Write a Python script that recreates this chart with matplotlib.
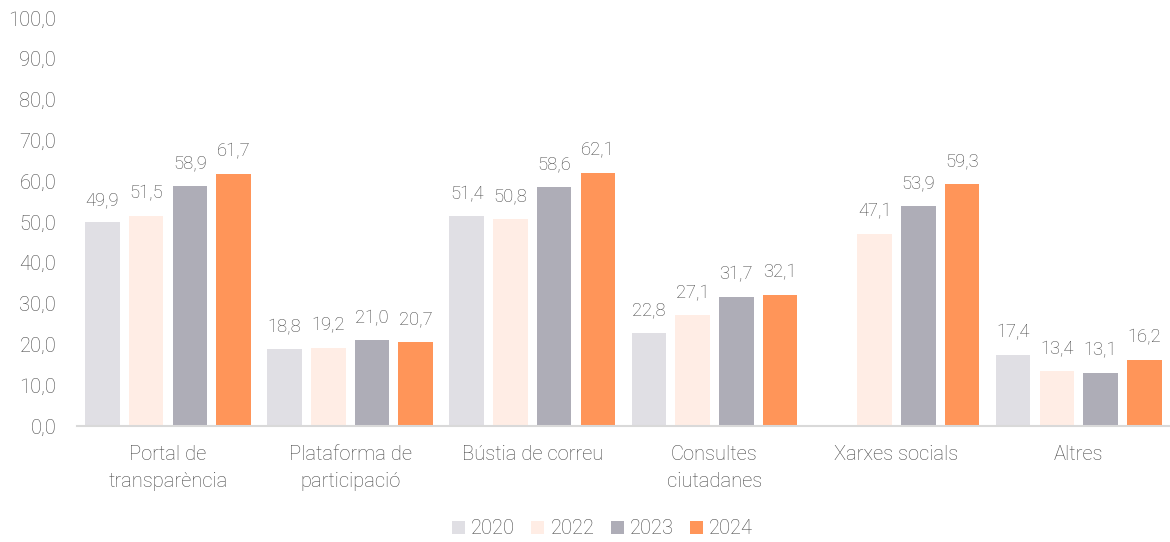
import matplotlib
matplotlib.use("Agg")
import matplotlib.pyplot as plt
import numpy as np
from matplotlib.patches import Patch

categories = ["Portal de\ntransparència", "Plataforma de\nparticipació", "Bústia de correu",
              "Consultes\nciutadanes", "Xarxes socials", "Altres"]
years = ["2020", "2022", "2023", "2024"]
v2020 = [49.9, 18.8, 51.4, 22.8, np.nan, 17.4]
v2022 = [51.5, 19.2, 50.8, 27.1, 47.1, 13.4]
v2023 = [58.9, 21.0, 58.6, 31.7, 53.9, 13.1]
v2024 = [61.7, 20.7, 62.1, 32.1, 59.3, 16.2]
series = [v2020, v2022, v2023, v2024]
colors = ["#E0DFE4", "#FFEDE5", "#AEADB7", "#FF9559"]

plt.rcParams['font.family'] = ['Roboto', 'DejaVu Sans']
plt.rcParams['font.weight'] = 'light'
txt = "#474747"

fig = plt.figure(figsize=(11.7, 5.42), dpi=100)
ax = fig.add_axes([0.0658, 0.214, 0.934, 0.753])

x = np.arange(len(categories))
w = 0.19
offs = [-0.36, -0.12, 0.12, 0.36]
for vals, c, o in zip(series, colors, offs):
    ax.bar(x + o, vals, width=w, color=c)
    for xi, v in zip(x + o, vals):
        if not np.isnan(v):
            ax.text(xi, v + 3.3, f"{v:.1f}".replace(".", ","), ha="center", va="bottom",
                    fontsize=13.2, color=txt, fontweight='light')

ax.set_xlim(-0.5, len(categories) - 0.5)
ax.set_ylim(0, 100)
ax.set_yticks(np.arange(0, 101, 10))
ax.set_yticklabels([f"{t:.1f}".replace(".", ",") for t in np.arange(0, 101, 10)])
ax.set_xticks(x)
ax.set_xticklabels(categories, linespacing=1.5)
ax.tick_params(axis='both', length=0, labelsize=14.5, colors=txt)
ax.tick_params(axis='x', pad=14)
ax.tick_params(axis='y', pad=15)
for s in ["top", "right", "left"]:
    ax.spines[s].set_visible(False)
ax.spines["bottom"].set_color("#D9D9D9")
ax.spines["bottom"].set_linewidth(1.5)

handles = [Patch(facecolor=c, label=y) for c, y in zip(colors, years)]
fig.legend(handles=handles, loc="center", bbox_to_anchor=(0.515, 0.024), ncol=4, frameon=False,
           fontsize=14.5, handlelength=0.65, handleheight=0.65, handletextpad=0.3, columnspacing=0.8,
           labelcolor=txt)

fig.savefig("out.png", dpi=100)
